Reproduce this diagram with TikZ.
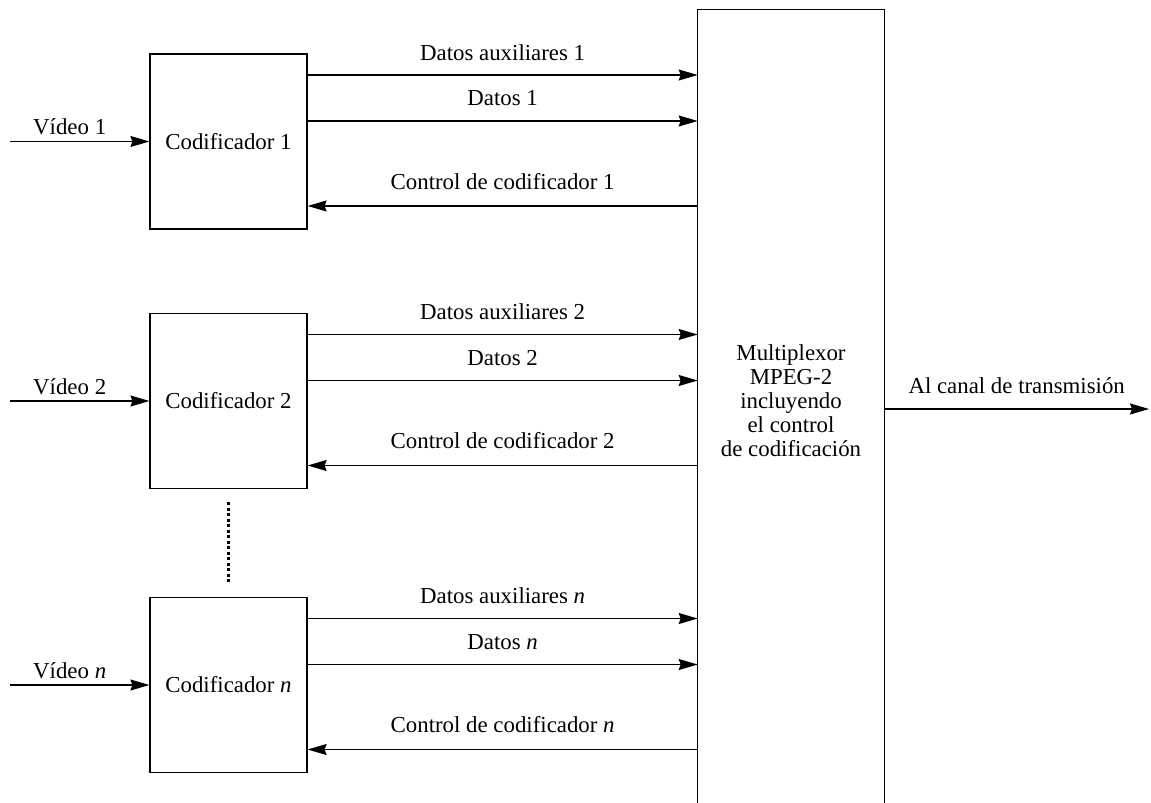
\documentclass[tikz,border=0pt]{standalone}
\usepackage{fontspec}
\setmainfont{Liberation Serif}
\usetikzlibrary{arrows.meta, positioning}

\tikzset{
	codbox/.style={draw, line width=0.7pt, minimum width=3.14cm, minimum height=3.5cm, inner sep=0pt},
	flecha/.style={line width=0.7pt, -{Stealth[length=3.8mm, width=2.2mm, inset=0.4mm]}},
	puntos/.style={line width=0.065cm, dash pattern=on 0.06cm off 0.05cm},
}

\begin{document}
\begin{tikzpicture}[x=0.02cm, y=-0.02cm, font=\fontsize{13}{13.7}\selectfont]
			\useasboundingbox (0,0) rectangle (1151,803);

			\begin{scope}
				\node[inner sep=0pt, minimum width=3.72cm, minimum height=15.64cm, align=center] (mux) at (791,401)
					{Multiplexor\\MPEG-2\\incluyendo\\el control\\de codificación};
				\coordinate (muxbase) at (791,803);
				\draw[line width=0.7pt] (mux.west |- muxbase) -- (mux.north west) -- (mux.north east) -- (mux.east |- muxbase);

				\coordinate (salida) at (1149,409);
				\draw[flecha] (mux.east |- salida) -- node[above, yshift=0.18cm] {Al canal de transmisión} (salida);
			\end{scope}

			\begin{scope}
				\foreach \i/\y/\lab in {1/141.5/1, 2/401/2, n/685/{\textit{n}}}
				{
					\node[codbox] (cod\i) at (228.5,\y) {Codificador \lab};

					\coordinate (vin\i) at (10,\y);
					\draw[flecha] (vin\i) -- node[above, xshift=-0.2cm] {Vídeo \lab} (cod\i.west);

					\coordinate (aux\i) at (0,\y-66.5);
					\coordinate (dat\i) at (0,\y-20.5);
					\coordinate (ctl\i) at (0,\y+64.5);

					\draw[flecha] (cod\i.east |- aux\i) -- node[above, yshift=0.16cm] {Datos auxiliares \lab} (mux.west |- aux\i);
					\draw[flecha] (cod\i.east |- dat\i) -- node[above, yshift=0.17cm] {Datos \lab} (mux.west |- dat\i);
					\draw[flecha] (mux.west |- ctl\i) -- node[above, yshift=0.2cm] {Control de codificador \lab} (cod\i.east |- ctl\i);
				}
			\end{scope}

			\draw[puntos] ([yshift=-0.26cm]cod2.south) -- ([yshift=0.3cm]codn.north);
		\end{tikzpicture}
\end{document}
